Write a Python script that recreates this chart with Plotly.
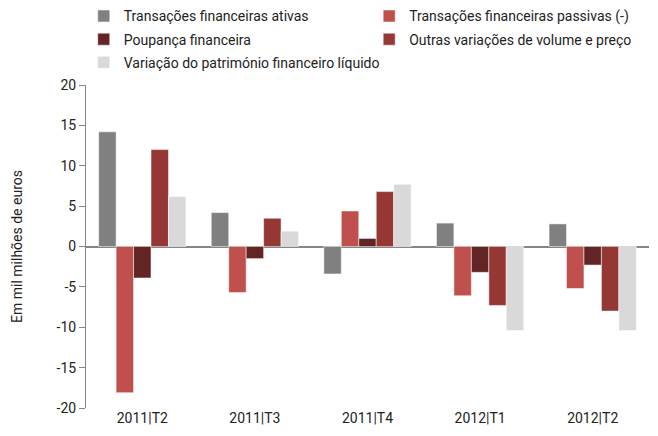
import plotly.graph_objects as go

categories = ["2011|T2", "2011|T3", "2011|T4", "2012|T1", "2012|T2"]
series_names = [
    "Transações financeiras ativas",
    "Transações financeiras passivas (-)",
    "Poupança financeira",
    "Outras variações de volume e preço",
    "Variação do património financeiro líquido",
]
ativas = [14.2, 4.2, -3.4, 2.9, 2.8]
passivas = [-18.1, -5.7, 4.4, -6.1, -5.2]
poupanca = [-3.9, -1.5, 1.0, -3.2, -2.3]
outras = [12.0, 3.5, 6.8, -7.3, -8.0]
variacao = [6.2, 1.9, 7.7, -10.4, -10.4]
colors = ["#808080", "#C0504D", "#632523", "#953735", "#D9D9D9"]
legend_ids = ["legend", "legend2", "legend", "legend2", "legend"]
y_ticks = [-20, -15, -10, -5, 0, 5, 10, 15, 20]
y_tick_labels = ["-20", "-15", "-10", "-5", "0", "5", "10", "15", "20"]

font = "Roboto, sans-serif"
txt = "#222222"

fig = go.Figure()
for i, (name, vals, col, lg) in enumerate(zip(series_names, [ativas, passivas, poupanca, outras, variacao], colors, legend_ids)):
    fig.add_trace(go.Bar(
        x=categories, y=vals, name=name, legend=lg, legendgroup=f"g{i}",
        marker=dict(color=col, line=dict(color="rgba(255,255,255,0.5)", width=1)),
    ))

leg_common = dict(
    orientation="v", xanchor="left", yanchor="top",
    font=dict(family=font, size=14, color=txt),
    itemwidth=30, traceorder="grouped", tracegroupgap=2,
    bgcolor="rgba(0,0,0,0)",
)

fig.update_layout(
    width=658, height=436,
    margin=dict(l=86, r=9, t=85, b=28, autoexpand=False),
    paper_bgcolor="white", plot_bgcolor="white",
    barmode="group", bargap=0.225, bargroupgap=0,
    font=dict(family=font, size=14, color=txt),
    showlegend=True,
    legend=dict(x=-0.004, y=1.262, **leg_common),
    legend2=dict(x=0.503, y=1.262, **leg_common),
    xaxis=dict(
        showline=False, showgrid=False, ticks="",
        tickfont=dict(family=font, size=14, color=txt),
        range=[-0.5, 4.5],
    ),
    yaxis=dict(
        range=[-20, 20], tickvals=y_ticks, ticktext=y_tick_labels, showgrid=False,
        showline=True, linecolor="#868686", linewidth=1,
        ticks="outside", ticklen=6, tickcolor="#868686",
        zeroline=True, zerolinecolor="#868686", zerolinewidth=1.5,
        tickfont=dict(family=font, size=14, color=txt),
        title=dict(text="Em mil milhões de euros", font=dict(family=font, size=14, color=txt), standoff=30),
    ),
)

fig.write_html("out.html", config={"displayModeBar": False},
               post_script="document.body.style.margin='0';")
